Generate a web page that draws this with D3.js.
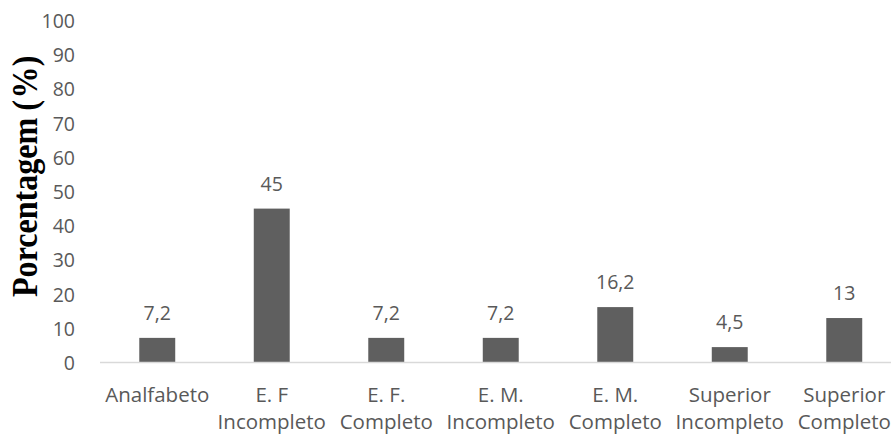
<!DOCTYPE html>
<html>
<head>
<meta charset="utf-8">
<script src="https://cdn.jsdelivr.net/npm/d3@7"></script>
<style>
  html, body { margin: 0; padding: 0; background: #fff; overflow: hidden; }
  svg { display: block; }
</style>
</head>
<body>
<svg id="chart" width="891" height="434"></svg>
<script>
const categories = [
  ["Analfabeto"],
  ["E. F", "Incompleto"],
  ["E. F.", "Completo"],
  ["E. M.", "Incompleto"],
  ["E. M.", "Completo"],
  ["Superior", "Incompleto"],
  ["Superior", "Completo"]
];
const values = [7.2, 45, 7.2, 7.2, 16.2, 4.5, 13];
const valueLabels = ["7,2", "45", "7,2", "7,2", "16,2", "4,5", "13"];
const yTicks = [0, 10, 20, 30, 40, 50, 60, 70, 80, 90, 100];
const yTitle = ["Porcentagem", " (", "%", ")"];

const svg = d3.select("#chart");
const W = 891, H = 434;
const left = 100, step = 114.5;
const x = d3.scaleBand()
  .domain(d3.range(categories.length))
  .range([left, left + step * categories.length])
  .paddingInner(0.686)
  .paddingOuter(0.343);
const y = d3.scaleLinear().domain([0, 100]).range([362.5, 20.5]);

const textColor = "#595959";
const font = "'Open Sans', sans-serif";

// y tick labels
const yAxis = d3.axisLeft(y).tickValues(yTicks).tickSize(0).tickPadding(0).tickFormat(d3.format("d"));
const gy = svg.append("g").attr("transform", "translate(75,0)").call(yAxis);
gy.select(".domain").remove();
gy.selectAll("text")
  .attr("fill", textColor)
  .style("font-family", font)
  .style("font-size", "19.5px")
  .attr("dy", "0.36em");

// bars
svg.append("g").selectAll("rect")
  .data(values)
  .join("rect")
  .attr("x", (d, i) => x(i))
  .attr("width", x.bandwidth())
  .attr("y", d => y(d))
  .attr("height", d => y(0) - y(d))
  .attr("fill", "#5f5f5f");

// baseline axis line
svg.append("line")
  .attr("x1", left).attr("x2", W)
  .attr("y1", y(0)).attr("y2", y(0))
  .attr("stroke", "#d9d9d9").attr("stroke-width", 1.5);

// value labels
svg.append("g").selectAll("text")
  .data(values)
  .join("text")
  .attr("x", (d, i) => x(i) + x.bandwidth() / 2)
  .attr("y", d => y(d) - 18)
  .attr("text-anchor", "middle")
  .attr("fill", textColor)
  .style("font-family", font)
  .style("font-size", "19.5px")
  .text((d, i) => valueLabels[i]);

// category labels
const cat = svg.append("g").selectAll("text")
  .data(categories)
  .join("text")
  .attr("text-anchor", "middle")
  .attr("fill", textColor)
  .style("font-family", font)
  .style("font-size", "20.5px");
cat.each(function(lines, i) {
  const t = d3.select(this);
  lines.forEach((ln, j) => {
    t.append("tspan")
      .attr("x", x(i) + x.bandwidth() / 2)
      .attr("y", 401.7 + j * 27)
      .text(ln);
  });
});

// y title (glyphs slightly condensed along the text direction, as in the reference)
const sx = 0.917;
const title = svg.append("text")
  .attr("transform", `translate(37,297) rotate(-90) scale(${sx},1)`)
  .attr("text-anchor", "start")
  .attr("fill", "#000")
  .style("font-family", "'Liberation Serif', 'Times New Roman', serif")
  .style("font-weight", "bold")
  .style("font-size", "35px")
  .style("white-space", "pre");
title.append("tspan").text(yTitle[0]);
title.append("tspan").attr("dx", -1 / sx).text(yTitle[1]);
title.append("tspan").attr("dx", 1.5 / sx).text(yTitle[2]);
title.append("tspan").attr("dx", 0).text(yTitle[3]);
</script>
</body>
</html>
